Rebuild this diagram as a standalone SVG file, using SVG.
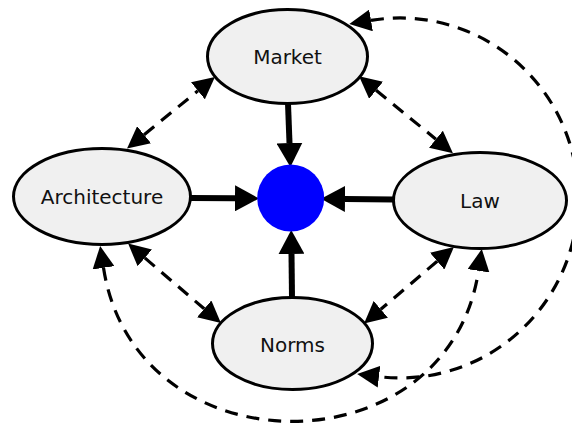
<svg xmlns="http://www.w3.org/2000/svg" width="572" height="430" viewBox="0 0 572 430">
  <defs>
    <style>
      .node ellipse { fill: #f0f0f0; stroke: #000; stroke-width: 3; }
      .node text { font-family: "DejaVu Sans", "Liberation Sans", sans-serif; font-size: 20px; fill: #111; text-anchor: middle; }
      .hub { fill: #0000ff; }
      .strong { fill: none; stroke: #000; stroke-width: 6; marker-end: url(#headStrong); }
      .mutual { fill: none; stroke: #000; stroke-width: 3.2; stroke-dasharray: 13 9; marker-start: url(#headDash); marker-end: url(#headDash); }
    </style>
    <marker id="headStrong" viewBox="0 -13 24 26" markerWidth="24" markerHeight="26" refX="0" refY="0" markerUnits="userSpaceOnUse" orient="auto">
      <path d="M0,-13 L24,0 L0,13 z" fill="#000"/>
    </marker>
    <marker id="headDash" viewBox="0 -11 22 22" markerWidth="22" markerHeight="22" refX="0" refY="0" markerUnits="userSpaceOnUse" orient="auto-start-reverse">
      <path d="M0,-11 L22,0 L0,11 z" fill="#000"/>
    </marker>
  </defs>

  <rect width="572" height="430" fill="#fff"/>

  <!-- connectors -->
  <g id="connectors">
    <!-- solid influences into the hub -->
    <path class="strong" d="M288,103.5 L289.5,143"/>
    <path class="strong" d="M190.5,198 L235,198.3"/>
    <path class="strong" d="M393.5,199.5 L345,199"/>
    <path class="strong" d="M292,297.5 L291.5,254"/>
    <!-- mutual (dashed, two-way) links -->
    <path class="mutual" d="M144.1,134.7 L197.9,90.8"/>
    <path class="mutual" d="M376.1,90.3 L435.9,139.2"/>
    <path class="mutual" d="M144.8,257.9 L204.2,308.8"/>
    <path class="mutual" d="M437.2,261.2 L380.8,309.3"/>
    <path class="mutual" d="M371,20.4 A178,180 0 1 1 379,376.7"/>
    <path class="mutual" d="M103.5,267.8 C135,472 448,472 478.5,270.8"/>
  </g>

  <g id="hub">
    <circle class="hub" cx="290.7" cy="198" r="33.5"/>
  </g>

  <g id="market" class="node">
    <ellipse cx="287.5" cy="56.5" rx="80" ry="47"/>
    <text x="287.5" y="63.5">Market</text>
  </g>

  <g id="architecture" class="node">
    <ellipse cx="102" cy="196.5" rx="88.5" ry="48"/>
    <text x="102" y="204">Architecture</text>
  </g>

  <g id="law" class="node">
    <ellipse cx="480" cy="200.5" rx="86.5" ry="48"/>
    <text x="480" y="207.7">Law</text>
  </g>

  <g id="norms" class="node">
    <ellipse cx="292.5" cy="343.5" rx="80" ry="46"/>
    <text x="292.5" y="351.5">Norms</text>
  </g>
</svg>
